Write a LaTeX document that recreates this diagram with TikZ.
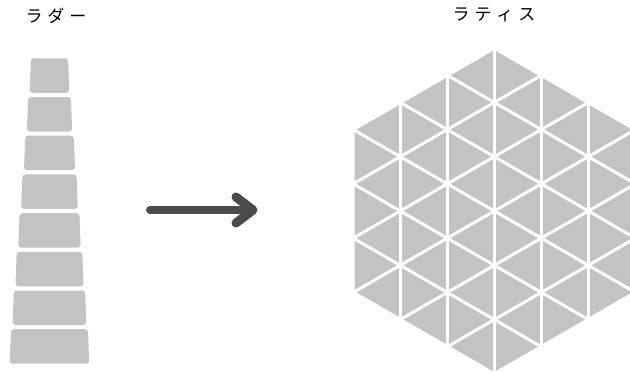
\documentclass[tikz,border=0pt]{standalone}
\usepackage{fontspec}
\newfontfamily\jp{Noto Sans CJK JP}
\definecolor{tile}{RGB}{195,195,195}
\definecolor{arrowgray}{RGB}{75,75,75}
\tikzset{
  label jp/.style={font=\jp\fontsize{17}{17}\selectfont, inner sep=0pt, text=black},
  rung/.style={fill=tile, rounded corners=3pt},
  gapline/.style={draw=white, line width=3pt},
  arrowpart/.style={draw=arrowgray, line cap=round, line join=round}
}
\begin{document}
\begin{tikzpicture}[x=1pt,y=-1pt]
\useasboundingbox (0,0) rectangle (630,372);
\clip (0,0) rectangle (630,372);
\fill[white] (0,0) rectangle (630,372);
% labels
\node[label jp] (ladderlabel) at (56,16) {ラ\kern5ptダ\kern5ptー};
\node[label jp] (latticelabel) at (494,15) {ラ\kern5ptテ\kern5ptィ\kern5ptス};
% ladder
\foreach \i in {0,...,7}{
  \pgfmathsetmacro\yt{58.3+\i*38.7}
  \pgfmathsetmacro\yb{\yt+34.5}
  \pgfmathsetmacro\wt{18.5+\i*2.85}
  \pgfmathsetmacro\wb{\wt+1.3}
  \path[rung] ({49.5-\wt},\yt) -- ({49.5+\wt},\yt) -- ({49.5+\wb},\yb) -- ({49.5-\wb},\yb) -- cycle;
}
% lattice hexagon
\def\cx{494.3}\def\cy{211}\def\s{54.3}\def\h{47.02}
\coordinate (hc) at (\cx,\cy);
\path[fill=tile] ({\cx},{\cy-3*\s}) -- ({\cx+3*\h},{\cy-1.5*\s}) -- ({\cx+3*\h},{\cy+1.5*\s}) -- ({\cx},{\cy+3*\s}) -- ({\cx-3*\h},{\cy+1.5*\s}) -- ({\cx-3*\h},{\cy-1.5*\s}) -- cycle;
\begin{scope}
\clip ({\cx},{\cy-3*\s}) -- ({\cx+3*\h},{\cy-1.5*\s}) -- ({\cx+3*\h},{\cy+1.5*\s}) -- ({\cx},{\cy+3*\s}) -- ({\cx-3*\h},{\cy+1.5*\s}) -- ({\cx-3*\h},{\cy-1.5*\s}) -- cycle;
\foreach \k in {-2,-1,0,1,2}{
  \path[gapline] ({\cx+(\k)*\h},{\cy-4*\s}) -- ({\cx+(\k)*\h},{\cy+4*\s});
}
\foreach \m in {-5,-4,-3,-2,-1,0,1,2,3,4,5}{
  \path[gapline] ({\cx-4*\h},{\cy+(\m)*\s-2*\s}) -- ({\cx+4*\h},{\cy+(\m)*\s+2*\s});
  \path[gapline] ({\cx-4*\h},{\cy+(\m)*\s+2*\s}) -- ({\cx+4*\h},{\cy+(\m)*\s-2*\s});
}
\end{scope}
\path[gapline, line join=round] ({\cx},{\cy-3*\s}) -- ({\cx+3*\h},{\cy-1.5*\s}) -- ({\cx+3*\h},{\cy+1.5*\s}) -- ({\cx},{\cy+3*\s}) -- ({\cx-3*\h},{\cy+1.5*\s}) -- ({\cx-3*\h},{\cy-1.5*\s}) -- cycle;
% arrow
\coordinate (arrowstart) at (150,210);
\coordinate (arrowend) at (250,210);
\coordinate (arrowtip) at (253,210);
\coordinate (armtop) at (236,197);
\coordinate (armbottom) at (236,223);
\path[arrowpart, line width=8pt] (arrowstart) -- (arrowend);
\path[arrowpart, line width=9pt] (armtop) -- (arrowtip) -- (armbottom);
\end{tikzpicture}
\end{document}
